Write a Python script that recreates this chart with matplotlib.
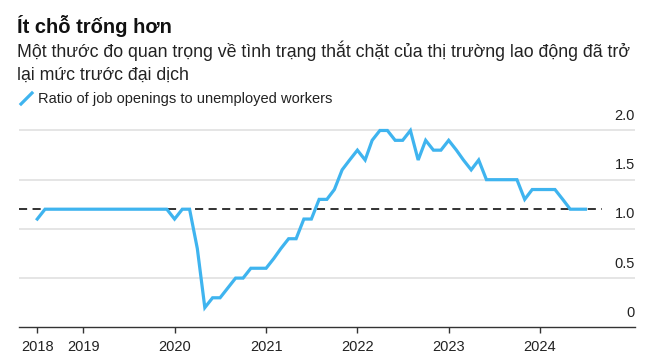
import pandas as pd
import matplotlib
matplotlib.use("Agg")
import matplotlib.pyplot as plt
import matplotlib.transforms as mtransforms
from matplotlib.lines import Line2D

plt.rcParams['font.family'] = ['Liberation Sans', 'DejaVu Sans']

# Dữ liệu hàng tháng, từ 07/2018 đến 07/2024
ratio = [
    1.1, 1.2, 1.2, 1.2, 1.2, 1.2,                                   # 2018 T7-T12
    1.2, 1.2, 1.2, 1.2, 1.2, 1.2, 1.2, 1.2, 1.2, 1.2, 1.2, 1.2,     # 2019
    1.1, 1.2, 1.2, 0.8, 0.2, 0.3, 0.3, 0.4, 0.5, 0.5, 0.6, 0.6,     # 2020
    0.6, 0.7, 0.8, 0.9, 0.9, 1.1, 1.1, 1.3, 1.3, 1.4, 1.6, 1.7,     # 2021
    1.8, 1.7, 1.9, 2.0, 2.0, 1.9, 1.9, 2.0, 1.7, 1.9, 1.8, 1.8,     # 2022
    1.9, 1.8, 1.7, 1.6, 1.7, 1.5, 1.5, 1.5, 1.5, 1.5, 1.3, 1.4,     # 2023
    1.4, 1.4, 1.4, 1.3, 1.2, 1.2, 1.2,                              # 2024
]
dates = pd.date_range("2018-07-01", periods=len(ratio), freq="MS")
pre_pandemic = 1.2
year_ticks = pd.to_datetime(["2018-07-01", "2019-01-01", "2020-01-01", "2021-01-01",
                             "2022-01-01", "2023-01-01", "2024-01-01"])
year_labels = ["2018", "2019", "2020", "2021", "2022", "2023", "2024"]
y_ticks = [0, 0.5, 1.0, 1.5, 2.0]
y_labels = ["0", "0.5", "1.0", "1.5", "2.0"]

blue = "#3fb4ef"
W, H = 658, 361
fig = plt.figure(figsize=(W / 100, H / 100), dpi=100)
ax = fig.add_axes([19 / W, (H - 327.3) / H, (635 - 19) / W, (327.3 - 110.8) / H])

x_left = pd.Timestamp("2018-04-19")
x_right = pd.Timestamp("2025-01-15")
ax.set_xlim(x_left, x_right)
ax.set_ylim(0, 2.2)

# lưới ngang
for v in y_ticks[1:]:
    ax.axhline(v, color="#dedede", lw=1.1, zorder=1)

ax.hlines(pre_pandemic, x_left, pd.Timestamp("2024-09-07"), colors="#222222",
          linestyles=(0, (4.5, 3)), lw=1.3, zorder=2)
ax.plot(dates, ratio, color=blue, lw=2.3, solid_joinstyle="miter", zorder=3)

for s in ["top", "right", "left"]:
    ax.spines[s].set_visible(False)
ax.spines["bottom"].set_color("#333333")
ax.spines["bottom"].set_linewidth(1.0)

ax.set_xticks(year_ticks)
ax.set_xticklabels(year_labels)
ax.tick_params(axis="x", length=4.5, width=1.0, color="#333333", pad=4.5,
               labelsize=10.5, labelcolor="#222222")
ax.set_yticks([])

trans = mtransforms.blended_transform_factory(ax.transAxes, ax.transData)
for v, lab in zip(y_ticks, y_labels):
    ax.annotate(lab, xy=(1, v), xycoords=trans, xytext=(0, 10.5),
                textcoords="offset points", ha="right", va="center",
                fontsize=10.5, color="#222222")

fig.text(17 / W, 1 - 33 / H, "Ít chỗ trống hơn", fontsize=14.5, fontweight="bold",
         color="#111111", va="baseline")
fig.text(17 / W, 1 - 57 / H,
         "Một thước đo quan trọng về tình trạng thắt chặt của thị trường lao động đã trở",
         fontsize=12.8, color="#222222", va="baseline")
fig.text(17 / W, 1 - 80 / H, "lại mức trước đại dịch", fontsize=12.8, color="#222222",
         va="baseline")

fig.add_artist(Line2D([21 / W, 32 / W], [1 - 104 / H, 1 - 93 / H], color=blue, lw=2.3,
                      transform=fig.transFigure))
fig.text(38 / W, 1 - 103 / H, "Ratio of job openings to unemployed workers", fontsize=10.5,
         color="#222222", va="baseline")

fig.savefig("out.png", dpi=100)
